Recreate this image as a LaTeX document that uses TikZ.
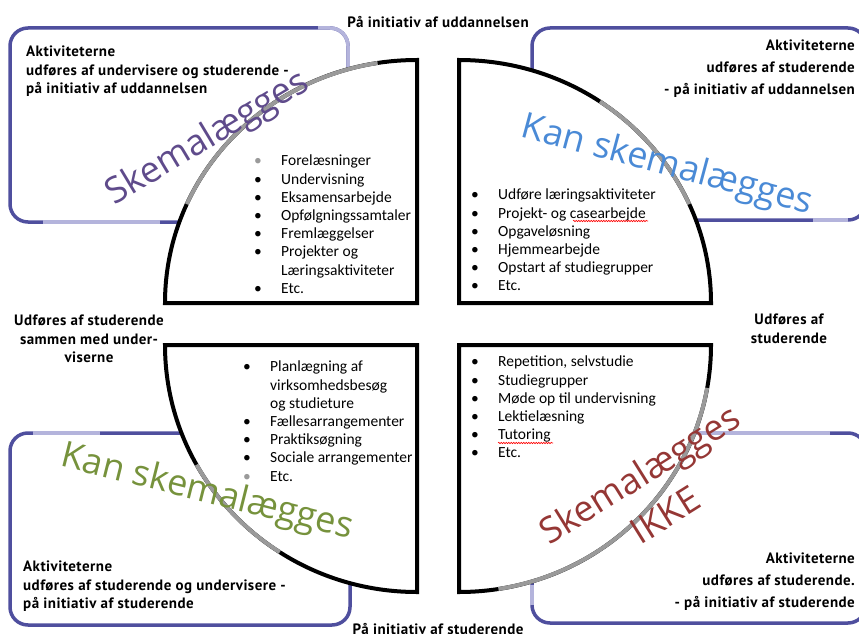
\documentclass[tikz,border=0pt]{standalone}
\usepackage{fontspec}
\setmainfont{Carlito}
\newfontfamily\labelfont{PT Sans}[LetterSpace=3]
\newfontfamily\bigfont{Open Sans}
\usetikzlibrary{decorations.pathmorphing}

\definecolor{boxdark}{HTML}{4F4F9E}
\definecolor{boxlight}{HTML}{B4B4DC}
\definecolor{arcgray}{HTML}{9A9A9A}
\definecolor{skpurple}{HTML}{5F4B8B}
\definecolor{skblue}{HTML}{4A8AD6}
\definecolor{skgreen}{HTML}{76923C}
\definecolor{skred}{HTML}{953735}

\newcommand{\itm}{\makebox[27pt][l]{\textbullet}}
\newcommand{\gitm}{\makebox[27pt][l]{\textcolor{arcgray}{\textbullet}}}
\newcommand{\noitm}{\hspace*{27pt}}

\begin{document}
\begin{tikzpicture}[
    x=1pt, y=-1pt,
    rbox/.style={draw=boxdark, line width=3.5pt, rounded corners=18pt},
    lightseg/.style={draw=boxlight, line width=3.5pt, rounded corners=18pt},
    quad/.style={draw=black, line width=4pt, fill=white},
    grayarc/.style={draw=arcgray, line width=4pt},
    lbl/.style={inner sep=0pt, font=\labelfont\bfseries\fontsize{15}{18.3}\selectfont},
    lblwide/.style={lbl, font=\labelfont\bfseries\fontsize{15}{22}\selectfont},
    list/.style={anchor=north west, inner sep=0pt, align=left, font=\fontsize{15.5}{18.2}\selectfont},
    big/.style={inner sep=0pt, align=center, font=\bigfont\fontsize{36}{48}\selectfont},
    spell/.style={draw=red, line width=0.6pt, decorate, decoration={snake, amplitude=0.7pt, segment length=2.5pt}}
]
\useasboundingbox (0,0) rectangle (859,634);

% boxes behind the quarters
\draw[rbox] (10,28) rectangle (348,222);
\draw[rbox] (532,28) rectangle (866,220);
\draw[rbox] (10,433) rectangle (350,625);
\draw[rbox] (532,433) rectangle (866,623);
\draw[lightseg] (318,28) -- (348,28) -- (348,110);
\draw[lightseg] (43,222) -- (160,222);
\draw[lightseg] (813,220) -- (848,220);
\draw[lightseg] (33,433) -- (100,433);
\draw[lightseg] (694,433) -- (830,433);
\draw[lightseg] (532,585) -- (532,605);

% quarters
\coordinate (qTL) at (417,303);
\coordinate (qTR) at (459,303);
\coordinate (qBL) at (417,345);
\coordinate (qBR) at (459,345);
\draw[quad] (qTL) -- ++(-252,0) arc[start angle=180, end angle=270, x radius=252, y radius=243] -- cycle;
\draw[quad] (qTR) -- ++(252,0) arc[start angle=0, end angle=-90, x radius=252, y radius=243] -- cycle;
\draw[quad] (qBL) -- ++(-252,0) arc[start angle=180, end angle=90, x radius=252, y radius=247] -- cycle;
\draw[quad] (qBR) -- ++(252,0) arc[start angle=0, end angle=90, x radius=252, y radius=247] -- cycle;
\draw[grayarc] (qTL) ++(204:252 and 243) arc[start angle=204, end angle=261, x radius=252, y radius=243];
\draw[grayarc] (qTR) ++(-56:252 and 243) arc[start angle=-56, end angle=-24, x radius=252, y radius=243];
\draw[grayarc] (qBL) ++(151:252 and 247) arc[start angle=151, end angle=123, x radius=252, y radius=247];
\draw[grayarc] (qBR) ++(10:252 and 247) arc[start angle=10, end angle=81, x radius=252, y radius=247];

% lists
\node[list] (lstTL) at (254,155) {\gitm Forelæsninger\\ \itm Undervisning\\ \itm Eksamensarbejde\\ \itm Opfølgningssamtaler\\ \itm Fremlæggelser\\ \itm Projekter og\\ \noitm Læringsaktiviteter\\ \itm Etc.};
\node[list] (lstTR) at (471,189) {\itm Udføre læringsaktiviteter\\ \itm Projekt- og casearbejde\\ \itm Opgaveløsning\\ \itm Hjemmearbejde\\ \itm Opstart af studiegrupper\\ \itm Etc.};
\node[list] (lstBL) at (243,361) {\itm Planlægning af\\ \noitm virksomhedsbesøg\\ \noitm og studieture\\ \itm Fællesarrangementer\\ \itm Praktiksøgning\\ \itm Sociale arrangementer\\ \gitm Etc.};
\node[list] (lstBR) at (471,356) {\itm Repetition, selvstudie\\ \itm Studiegrupper\\ \itm Møde op til undervisning\\ \itm Lektielæsning\\ \itm Tutoring\\ \itm Etc.};
\draw[spell] (573,221) -- (648,221);
\draw[spell] (498,443) -- (553,443);

% labels
\node[lbl, anchor=base] (lblTop) at (438,28) {På initiativ af uddannelsen};
\node[lbl, anchor=north] (lblBottom) at (438,623) {På initiativ af studerende};
\node[lbl, anchor=north, align=center] (lblLeft) at (89,315) {Udføres af studerende\\sammen med under-\\viserne};
\node[lbl, anchor=north, align=center] (lblRight) at (789,314) {Udføres af\\studerende};
\node[lbl, anchor=north west, align=left] (txtTL) at (26,46) {Aktiviteterne\\udføres af undervisere og studerende -\\på initiativ af uddannelsen};
\node[lblwide, anchor=north east, align=right] (txtTR) at (855,40) {Aktiviteterne\\udføres af studerende\\- på initiativ af uddannelsen};
\node[lbl, anchor=north west, align=left] (txtBL) at (23,561) {Aktiviteterne\\udføres af studerende og undervisere -\\på initiativ af studerende};
\node[lblwide, anchor=north east, align=right] (txtBR) at (855,553) {Aktiviteterne\\udføres af studerende.\\- på initiativ af studerende};

% big words
\node[big, text=skpurple, rotate=31] (bigTL) at (208,139) {Skemalægges};
\node[big, text=skblue, rotate=-15] (bigTR) at (667,166) {Kan skemalægges};
\node[big, text=skgreen, rotate=-14] (bigBL) at (207,493) {Kan skemalægges};
\node[big, text=skred, rotate=32] (bigBR) at (652,494) {Skemalægges\\IKKE};
\end{tikzpicture}
\end{document}
